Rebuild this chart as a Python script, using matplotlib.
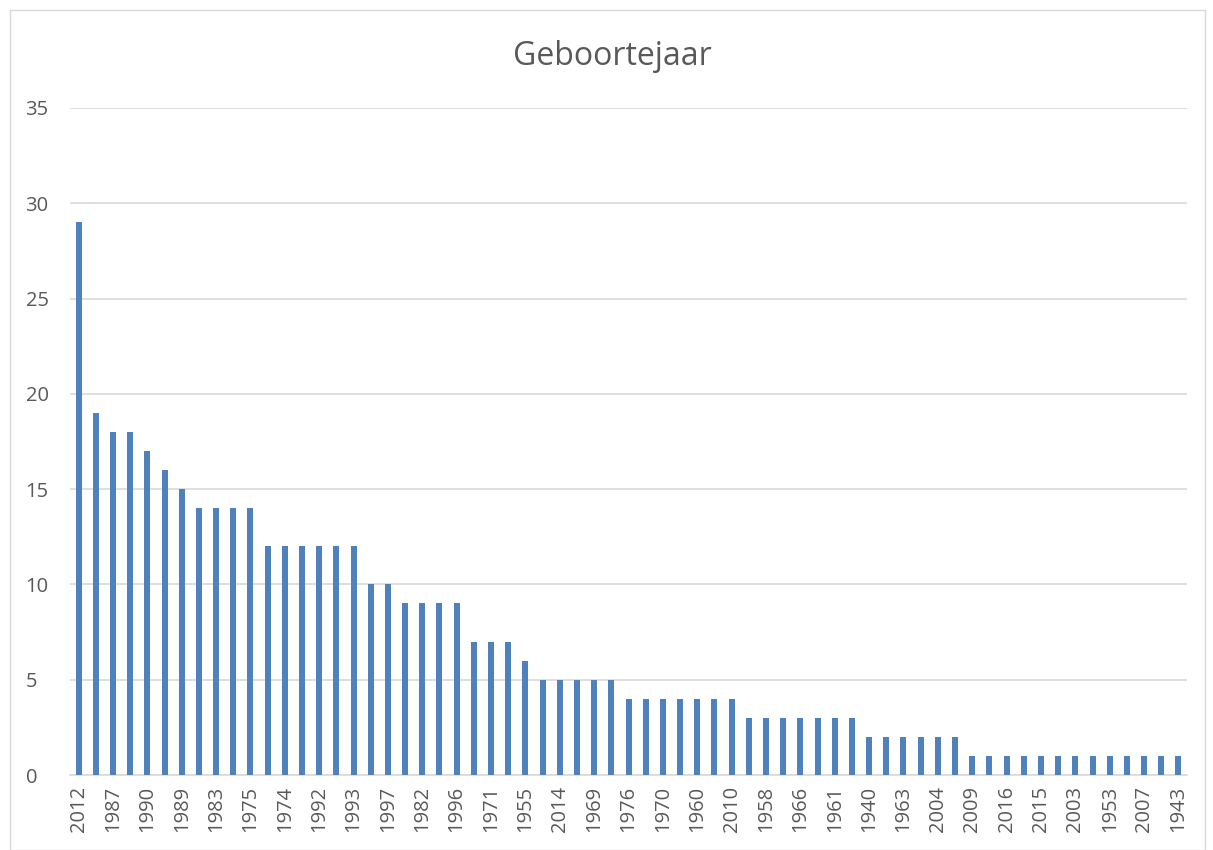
import matplotlib.pyplot as plt
from matplotlib.patches import Rectangle

# aantal per geboortejaar (65 balken, elke tweede heeft een label)
counts = [29, 19, 18, 18, 17, 16, 15, 14, 14, 14, 14,
          12, 12, 12, 12, 12, 12, 10, 10, 9, 9, 9, 9,
          7, 7, 7, 6, 5, 5, 5, 5, 5,
          4, 4, 4, 4, 4, 4, 4, 3, 3, 3, 3, 3, 3, 3,
          2, 2, 2, 2, 2, 2,
          1, 1, 1, 1, 1, 1, 1, 1, 1, 1, 1, 1, 1]
shown_labels = ['2012', '1987', '1990', '1989', '1983', '1975', '1974', '1992',
                '1993', '1997', '1982', '1996', '1971', '1955', '2014', '1969',
                '1976', '1970', '1960', '2010', '1958', '1966', '1961', '1940',
                '1963', '2004', '2009', '2016', '2015', '2003', '1953', '2007',
                '1943']
yticks = [0, 5, 10, 15, 20, 25, 30, 35]

plt.rcParams['font.family'] = ['Open Sans', 'DejaVu Sans']
text_color = '#595959'

fig = plt.figure(figsize=(12.13, 8.5), dpi=100)
fig.patches.append(Rectangle((0.008, 0.0), 0.985, 0.988, transform=fig.transFigure,
                             fill=False, edgecolor='#d9d9d9', linewidth=1))

ax = fig.add_axes([0.0577, 0.0882, 0.9209, 0.7848])
x = list(range(len(counts)))
ax.bar(x, counts, width=0.35, color='#4f81bd', zorder=3)

ax.set_xlim(-0.5, len(counts) - 0.5)
ax.set_ylim(0, 35)
ax.set_yticks(yticks)
ax.set_xticks(x[::2])
ax.set_xticklabels(shown_labels, rotation=90)
ax.tick_params(axis='both', length=0, labelsize=14.5, colors=text_color)
ax.tick_params(axis='x', pad=8)
ax.tick_params(axis='y', pad=32)
for lab in ax.get_yticklabels():
    lab.set_horizontalalignment('left')
ax.grid(axis='y', color='#d9d9d9', linewidth=1.2, zorder=0)
for side in ['top', 'right', 'left']:
    ax.spines[side].set_visible(False)
ax.spines['bottom'].set_color('#d9d9d9')
ax.spines['bottom'].set_linewidth(1.2)

fig.text(0.505, 0.933, 'Geboortejaar', ha='center', va='center',
         fontsize=23, color=text_color)

fig.savefig('out.png', dpi=100)
